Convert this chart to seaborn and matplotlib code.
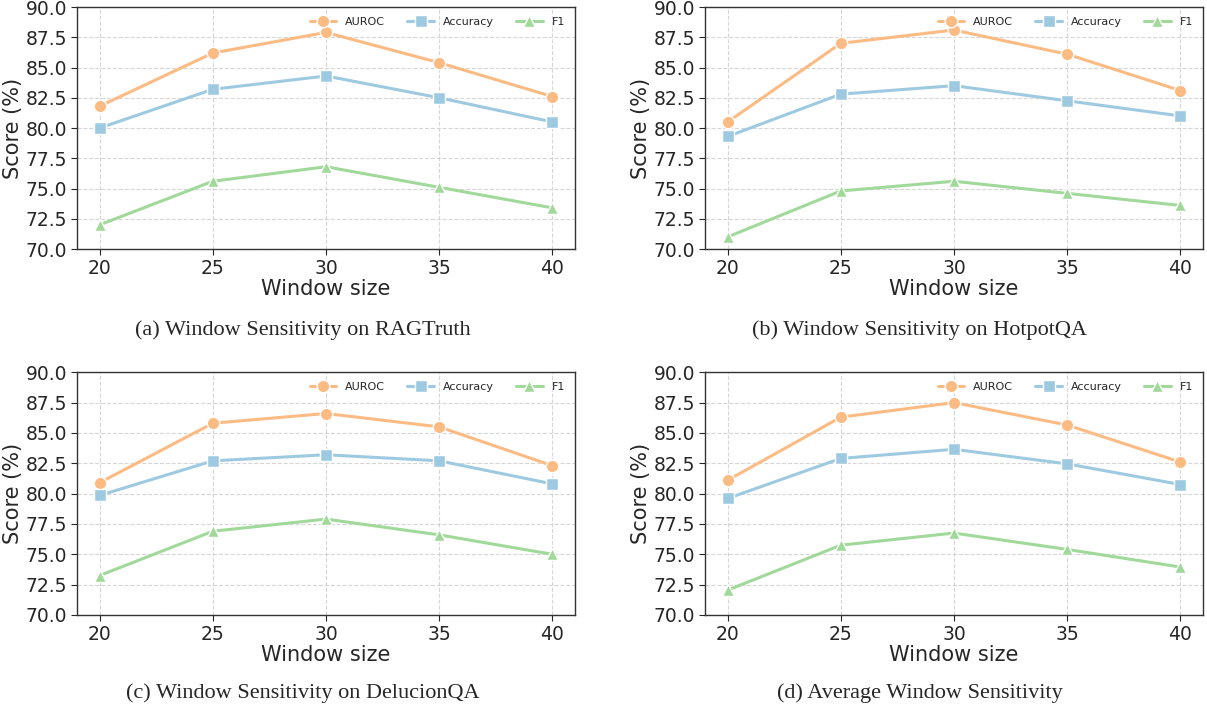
import matplotlib
matplotlib.use("Agg")
import matplotlib.pyplot as plt
import pandas as pd
import seaborn as sns

windows = [20, 25, 30, 35, 40]
metrics = ["AUROC", "Accuracy", "F1"]

ragtruth_auroc = [81.8, 86.2, 87.9, 85.4, 82.6]
ragtruth_acc = [80.0, 83.2, 84.3, 82.5, 80.5]
ragtruth_f1 = [72.0, 75.6, 76.8, 75.1, 73.4]

hotpot_auroc = [80.5, 87.0, 88.1, 86.1, 83.1]
hotpot_acc = [79.3, 82.8, 83.5, 82.25, 81.0]
hotpot_f1 = [71.0, 74.8, 75.6, 74.6, 73.6]

delucion_auroc = [80.9, 85.8, 86.6, 85.5, 82.3]
delucion_acc = [79.85, 82.7, 83.2, 82.7, 80.8]
delucion_f1 = [73.25, 76.9, 77.9, 76.6, 75.0]

avg_auroc = [81.1, 86.3, 87.5, 85.65, 82.6]
avg_acc = [79.6, 82.9, 83.65, 82.45, 80.75]
avg_f1 = [72.05, 75.75, 76.75, 75.4, 73.95]

captions = [
    "(a) Window Sensitivity on RAGTruth",
    "(b) Window Sensitivity on HotpotQA",
    "(c) Window Sensitivity on DelucionQA",
    "(d) Average Window Sensitivity",
]
panels = [
    (ragtruth_auroc, ragtruth_acc, ragtruth_f1),
    (hotpot_auroc, hotpot_acc, hotpot_f1),
    (delucion_auroc, delucion_acc, delucion_f1),
    (avg_auroc, avg_acc, avg_f1),
]

palette = {"AUROC": "#fdbb84", "Accuracy": "#9ecae1", "F1": "#a1d99b"}
markers = {"AUROC": "o", "Accuracy": "s", "F1": "^"}

sns.set_style("ticks")
plt.rcParams["font.family"] = ["DejaVu Sans"]

fig = plt.figure(figsize=(12.07, 7.16), dpi=100)

# axes boxes in figure fractions: left, bottom, width, height
boxes = [
    (0.0638, 0.6522, 0.4126, 0.338),
    (0.5841, 0.6522, 0.4126, 0.338),
    (0.0638, 0.1411, 0.4126, 0.339),
    (0.5841, 0.1411, 0.4126, 0.339),
]
caption_pos = [(0.251, 0.539), (0.762, 0.539), (0.251, 0.032), (0.762, 0.032)]

for box, vals, cap, (cx, cy) in zip(boxes, panels, captions, caption_pos):
    ax = fig.add_axes(box)
    rows = []
    for m, series in zip(metrics, vals):
        for w, v in zip(windows, series):
            rows.append({"Window size": w, "Score": v, "Metric": m})
    df = pd.DataFrame(rows)
    sns.lineplot(
        data=df, x="Window size", y="Score", hue="Metric", style="Metric",
        hue_order=metrics, style_order=metrics, palette=palette,
        markers=markers, dashes=False, linewidth=2.2, markersize=9,
        markeredgecolor="white", markeredgewidth=1.0, ax=ax,
    )
    ax.set_ylim(70, 90)
    ax.set_xticks(windows)
    ax.set_yticks([70 + 2.5 * i for i in range(9)])
    ax.set_yticklabels([f"{70 + 2.5 * i:.1f}" for i in range(9)])
    ax.tick_params(labelsize=13.5, length=4.5, pad=2.5)
    ax.set_xlabel("Window size", fontsize=15, labelpad=1)
    ax.set_ylabel("Score (%)", fontsize=15, labelpad=2)
    ax.grid(True, linestyle="--", color="#cccccc", linewidth=0.8, alpha=0.8)
    for s in ax.spines.values():
        s.set_color("#333333")
        s.set_linewidth(1.0)
    ax.legend(loc="upper right", ncol=3, frameon=False, fontsize=8,
              handlelength=2.4, title=None)
    fig.text(cx, cy, cap, ha="center", va="center", fontsize=16,
             family=["Liberation Serif", "DejaVu Serif"])

fig.savefig("out.png", dpi=100)
